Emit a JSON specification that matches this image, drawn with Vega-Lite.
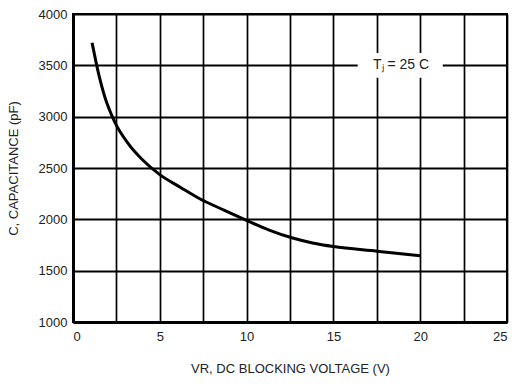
{
  "$schema": "https://vega.github.io/schema/vega-lite/v6.json",
  "autosize": "none",
  "width": 434,
  "height": 308,
  "padding": {"left": 73, "top": 14, "right": 12, "bottom": 62},
  "background": "white",
  "config": {
    "view": {"stroke": "black", "strokeWidth": 2},
    "font": "Liberation Sans",
    "axis": {
      "grid": true,
      "gridColor": "black",
      "gridOpacity": 1,
      "domainColor": "black",
      "domainWidth": 3,
      "ticks": false,
      "labelFont": "Liberation Sans",
      "labelFontSize": 13,
      "labelColor": "#222",
      "titleFont": "Liberation Sans",
      "titleFontSize": 13,
      "titleFontWeight": "normal",
      "titleColor": "#222"
    }
  },
  "datasets": {
    "curve": [
      {"v": 1.1, "c": 3720},
      {"v": 1.5, "c": 3400},
      {"v": 1.8, "c": 3210},
      {"v": 2.4, "c": 2950},
      {"v": 3.15, "c": 2745},
      {"v": 4.0, "c": 2580},
      {"v": 5.0, "c": 2435},
      {"v": 6.2, "c": 2310},
      {"v": 7.3, "c": 2200},
      {"v": 8.7, "c": 2090},
      {"v": 10.0, "c": 1990},
      {"v": 11.3, "c": 1895},
      {"v": 12.6, "c": 1820},
      {"v": 13.8, "c": 1770},
      {"v": 15.0, "c": 1735},
      {"v": 17.5, "c": 1690},
      {"v": 20.0, "c": 1645}
    ],
    "note": [
      {"x1": 16.4, "x2": 21.3, "y1": 3380, "y2": 3620, "xm": 18.9, "ym": 3500, "label": "Tⱼ = 25 C"}
    ]
  },
  "layer": [
    {
      "data": {"name": "curve"},
      "mark": {"type": "line", "color": "black", "strokeWidth": 3, "interpolate": "monotone"},
      "encoding": {
        "x": {
          "field": "v", "type": "quantitative",
          "scale": {"domain": [0, 25], "nice": false},
          "axis": {
            "values": [0, 2.5, 5, 7.5, 10, 12.5, 15, 17.5, 20, 22.5, 25],
            "labelExpr": "datum.value % 5 == 0 ? format(datum.value, 'd') : ''",
            "gridWidth": 1.7,
            "labelPadding": 8,
            "title": "VR, DC BLOCKING VOLTAGE (V)",
            "titlePadding": 19
          }
        },
        "y": {
          "field": "c", "type": "quantitative",
          "scale": {"domain": [1000, 4000], "nice": false, "zero": false},
          "axis": {
            "values": [1000, 1250, 1500, 1750, 2000, 2250, 2500, 2750, 3000, 3250, 3500, 3750, 4000],
            "labelExpr": "datum.value % 500 == 0 ? format(datum.value, 'd') : ''",
            "gridWidth": 2,
            "labelPadding": 6,
            "title": "C, CAPACITANCE (pF)",
            "titlePadding": 18
          }
        }
      }
    },
    {
      "data": {"name": "note"},
      "mark": {"type": "rect", "color": "white"},
      "encoding": {
        "x": {"field": "x1", "type": "quantitative"},
        "x2": {"field": "x2"},
        "y": {"field": "y1", "type": "quantitative"},
        "y2": {"field": "y2"}
      }
    },
    {
      "data": {"name": "note"},
      "mark": {"type": "text", "font": "Liberation Sans", "fontSize": 14, "color": "#222"},
      "encoding": {
        "x": {"field": "xm", "type": "quantitative"},
        "y": {"field": "ym", "type": "quantitative"},
        "text": {"field": "label"}
      }
    }
  ]
}
